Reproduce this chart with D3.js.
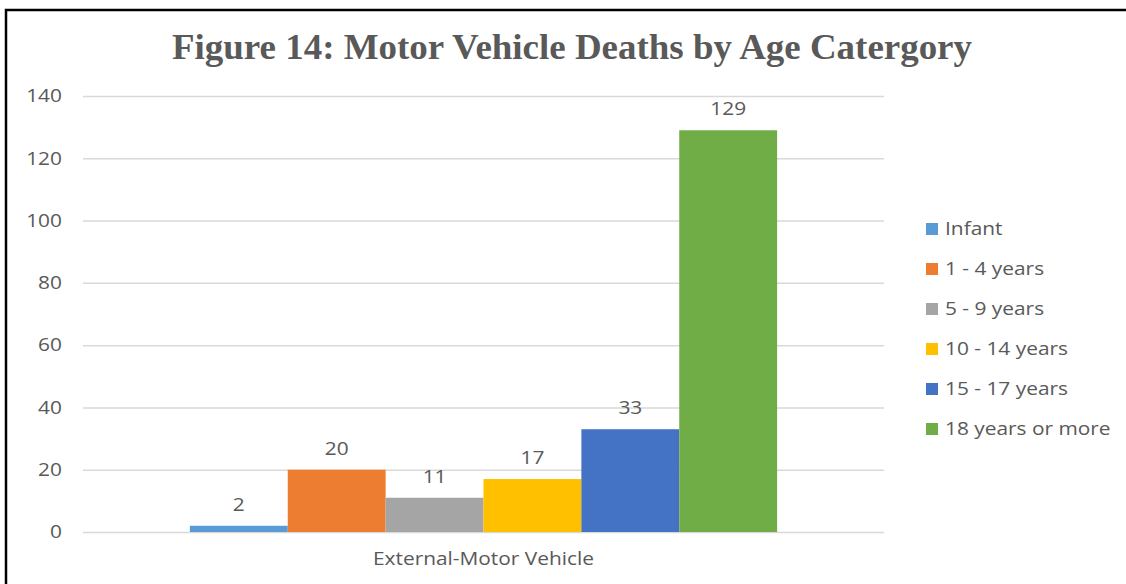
<!DOCTYPE html>
<html>
<head>
<meta charset="utf-8">
<script src="https://cdn.jsdelivr.net/npm/d3@7"></script>
<style>
  body { margin: 0; background: #fff; }
  text { font-family: 'Open Sans', 'Noto Sans', sans-serif; fill: #595959; }
</style>
</head>
<body>
<div id="chartArea"></div>
<script>
const svgWidth = 1126;
const svgHeight = 584;

// data
const categories = ['External-Motor Vehicle'];
const seriesNames = ['Infant', '1 - 4 years', '5 - 9 years', '10 - 14 years', '15 - 17 years', '18 years or more'];
const seriesValues = [2, 20, 11, 17, 33, 129];
const seriesColors = ['#5B9BD5', '#ED7D31', '#A5A5A5', '#FFC000', '#4472C4', '#70AD47'];
const yTicks = [0, 20, 40, 60, 80, 100, 120, 140];

// the source picture is a little stretched sideways
const stretch = 1.16;
const fontSize = '18px';

const canvas = d3.select('#chartArea')
  .append('svg')
  .attr('width', svgWidth)
  .attr('height', svgHeight);

// outer frame (only top and left visible)
canvas.append('path')
  .attr('d', 'M6,' + svgHeight + ' V10 H' + svgWidth)
  .attr('fill', 'none')
  .attr('stroke', '#000')
  .attr('stroke-width', 2.5);

canvas.append('text')
  .attr('x', 572)
  .attr('y', 59)
  .attr('text-anchor', 'middle')
  .attr('textLength', 800)
  .attr('lengthAdjust', 'spacingAndGlyphs')
  .style('font-family', "'Liberation Serif', 'DejaVu Serif', serif")
  .style('font-weight', 'bold')
  .style('font-size', '35px')
  .text('Figure 14: Motor Vehicle Deaths by Age Catergory');

const plotLeft = 83;
const plotRight = 884;

const y = d3.scaleLinear()
  .domain([0, 140])
  .range([532, 96]);

const x0 = d3.scaleBand()
  .domain(categories)
  .range([plotLeft, plotRight])
  .paddingInner(0)
  .paddingOuter(0.182);

const x1 = d3.scaleBand()
  .domain(seriesNames)
  .range([0, x0.bandwidth()]);

// gridlines + tick labels
const yAxis = canvas.append('g')
  .attr('transform', 'translate(' + plotLeft + ',0)')
  .call(d3.axisLeft(y)
    .tickValues(yTicks)
    .tickSize(-(plotRight - plotLeft))
    .tickPadding(0));

yAxis.select('.domain').remove();
yAxis.selectAll('.tick line')
  .attr('stroke', '#d9d9d9')
  .attr('stroke-width', 1.5);
yAxis.selectAll('.tick text')
  .attr('x', null)
  .attr('transform', 'translate(-21,0) scale(' + stretch + ',1)')
  .style('font-family', "'Open Sans', 'Noto Sans', sans-serif")
  .style('font-size', fontSize)
  .attr('fill', '#595959');

// bars
const group = canvas.append('g')
  .attr('transform', 'translate(' + x0(categories[0]) + ',0)');

group.selectAll('rect')
  .data(seriesNames)
  .enter()
  .append('rect')
  .attr('x', d => x1(d))
  .attr('y', (d, i) => y(seriesValues[i]))
  .attr('width', x1.bandwidth())
  .attr('height', (d, i) => y(0) - y(seriesValues[i]))
  .attr('fill', (d, i) => seriesColors[i]);

group.selectAll('.value')
  .data(seriesNames)
  .enter()
  .append('text')
  .attr('class', 'value')
  .attr('transform', (d, i) => 'translate(' + (x1(d) + x1.bandwidth() / 2) + ',' + (y(seriesValues[i]) - 15) + ') scale(' + stretch + ',1)')
  .attr('text-anchor', 'middle')
  .style('font-size', fontSize)
  .text((d, i) => seriesValues[i]);

// category label
canvas.append('text')
  .attr('transform', 'translate(' + (x0(categories[0]) + x0.bandwidth() / 2) + ',565) scale(' + stretch + ',1)')
  .attr('text-anchor', 'middle')
  .style('font-size', fontSize)
  .text(categories[0]);

// legend
const legend = canvas.append('g')
  .attr('transform', 'translate(926,229)');

const legendItems = legend.selectAll('g')
  .data(seriesNames)
  .enter()
  .append('g')
  .attr('transform', (d, i) => 'translate(0,' + i * 40 + ')');

legendItems.append('rect')
  .attr('x', 0)
  .attr('y', -6)
  .attr('width', 12)
  .attr('height', 12)
  .attr('fill', (d, i) => seriesColors[i]);

legendItems.append('text')
  .attr('transform', 'translate(19,6) scale(' + stretch + ',1)')
  .style('font-size', fontSize)
  .text(d => d);
</script>
</body>
</html>
